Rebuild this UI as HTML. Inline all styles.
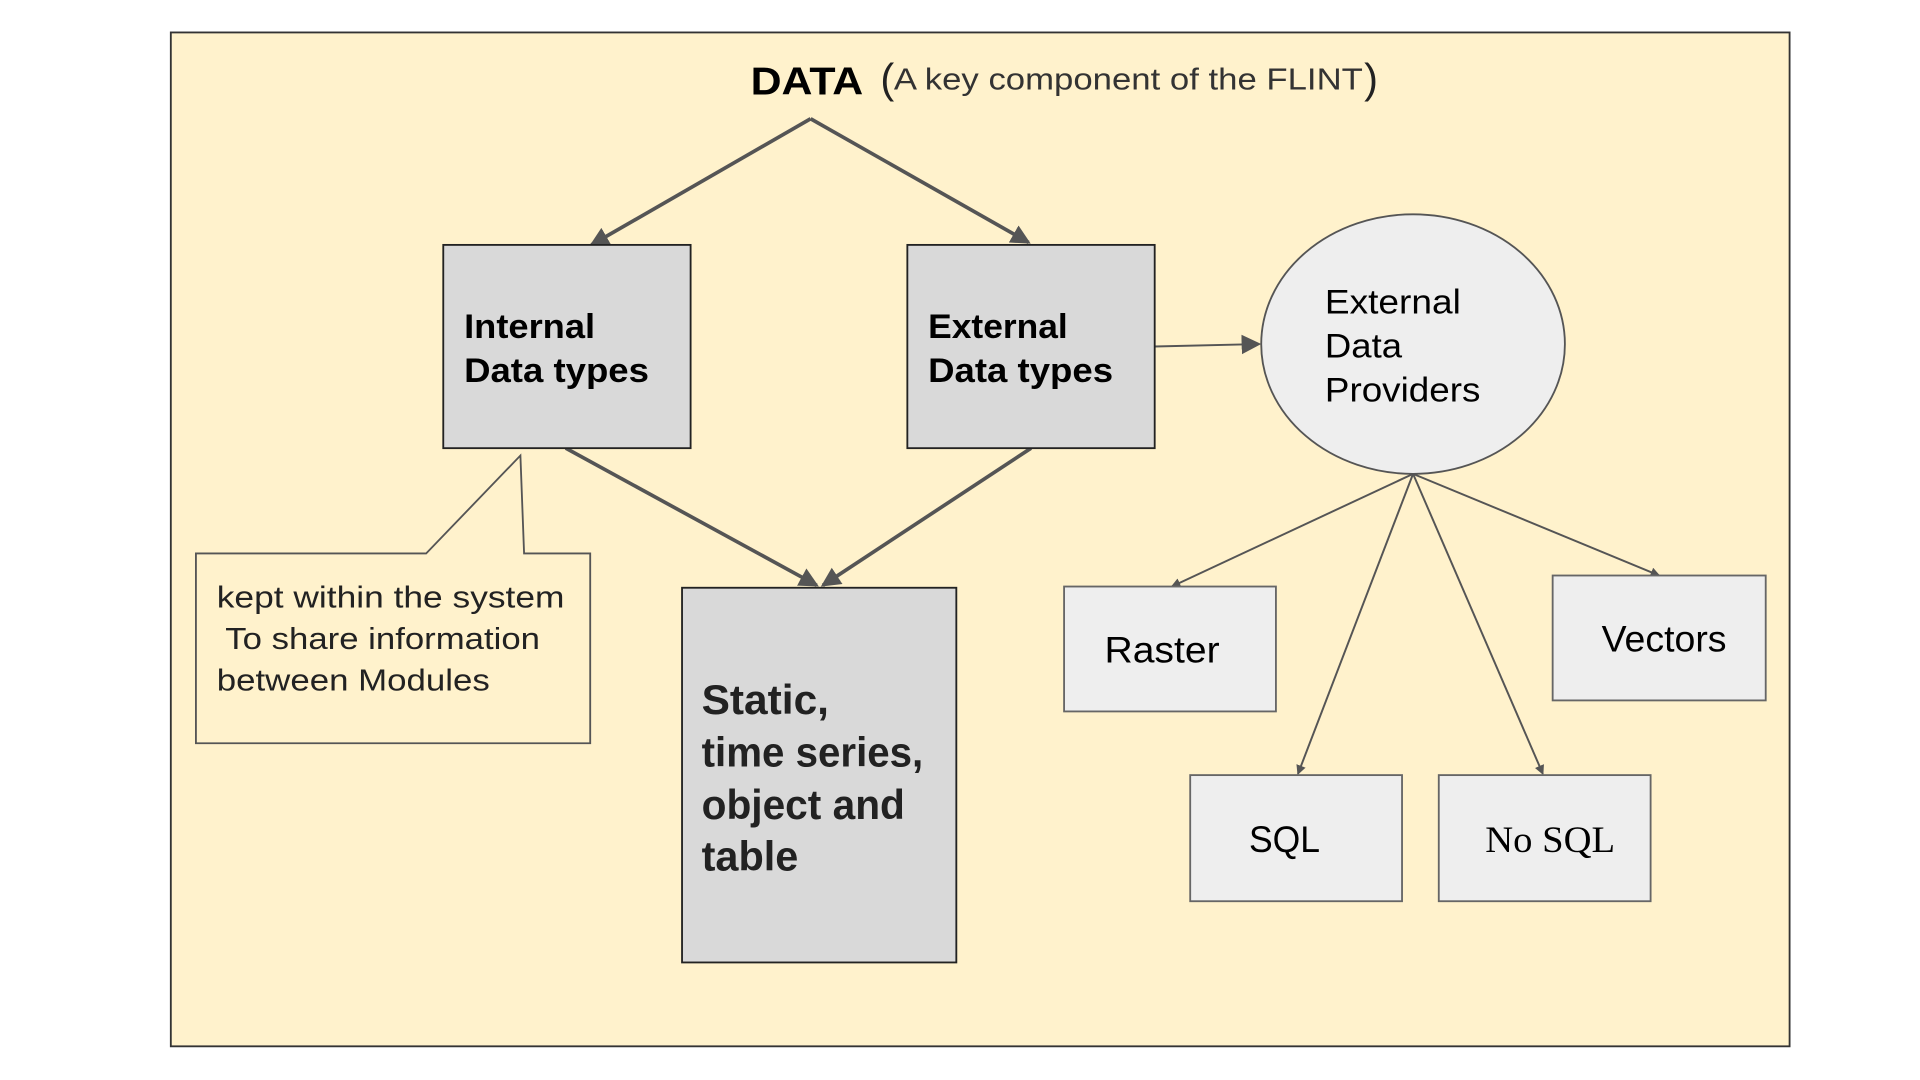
<!DOCTYPE html>
<html><head><meta charset="utf-8"><style>
html,body{margin:0;padding:0;background:#fff;width:1920px;height:1080px;overflow:hidden}
svg{display:block}
text{font-family:"Liberation Sans",sans-serif}
</style></head><body>
<svg width="1920" height="1080" viewBox="0 0 1568 882" xmlns="http://www.w3.org/2000/svg">
<defs>
<marker id="a" markerWidth="8" markerHeight="8" refX="7" refY="4" orient="auto" markerUnits="userSpaceOnUse" viewBox="0 0 8 8"><path d="M0,0L8,4L0,8z" fill="#555"/></marker>
<marker id="b" markerWidth="16" markerHeight="16" refX="14" refY="8" orient="auto" markerUnits="userSpaceOnUse" viewBox="0 0 16 16"><path d="M0,0L16,8L0,16z" fill="#555"/></marker>
</defs>
<rect x="139.5" y="26.5" width="1322" height="828" fill="#fff2cc" stroke="#333" stroke-width="1.5"/>
<text x="613" y="77" font-size="32" font-weight="bold" fill="#000" textLength="92" lengthAdjust="spacingAndGlyphs">DATA</text>
<text x="719" y="76" font-size="34" fill="#222">(</text>
<text x="730" y="73" font-size="25" fill="#333" textLength="383" lengthAdjust="spacingAndGlyphs">A key component of the FLINT</text>
<text x="1114" y="76" font-size="34" fill="#222">)</text>
<g stroke="#555" stroke-width="3" fill="none">
<line x1="662" y1="97" x2="483" y2="200" marker-end="url(#b)"/>
<line x1="662" y1="97" x2="840" y2="198" marker-end="url(#b)"/>
<line x1="462" y1="366" x2="667" y2="478" marker-end="url(#b)"/>
<line x1="842" y1="366" x2="672" y2="478" marker-end="url(#b)"/>
</g>
<g stroke="#555" stroke-width="1.6" fill="none">
<line x1="943" y1="283" x2="1028" y2="281" marker-end="url(#b)"/>
<line x1="1154" y1="387" x2="957" y2="479" marker-end="url(#a)"/>
<line x1="1154" y1="387" x2="1060" y2="632" marker-end="url(#a)"/>
<line x1="1154" y1="387" x2="1260" y2="632" marker-end="url(#a)"/>
<line x1="1154" y1="387" x2="1355" y2="470" marker-end="url(#a)"/>
</g>
<rect x="362" y="200" width="202" height="166" fill="#d9d9d9" stroke="#222" stroke-width="1.5"/>
<text font-size="28" font-weight="bold" fill="#000"><tspan x="379" y="276" textLength="107" lengthAdjust="spacingAndGlyphs">Internal</tspan><tspan x="379" y="312" textLength="151" lengthAdjust="spacingAndGlyphs">Data types</tspan></text>
<rect x="741" y="200" width="202" height="166" fill="#d9d9d9" stroke="#222" stroke-width="1.5"/>
<text font-size="28" font-weight="bold" fill="#000"><tspan x="758" y="276" textLength="114" lengthAdjust="spacingAndGlyphs">External</tspan><tspan x="758" y="312" textLength="151" lengthAdjust="spacingAndGlyphs">Data types</tspan></text>
<ellipse cx="1154" cy="281" rx="124" ry="106" fill="#eeeeee" stroke="#555" stroke-width="1.5"/>
<text font-size="28" fill="#000"><tspan x="1082" y="256" textLength="111" lengthAdjust="spacingAndGlyphs">External</tspan><tspan x="1082" y="292" textLength="63" lengthAdjust="spacingAndGlyphs">Data</tspan><tspan x="1082" y="328" textLength="127" lengthAdjust="spacingAndGlyphs">Providers</tspan></text>
<rect x="557" y="480" width="224" height="306" fill="#d9d9d9" stroke="#222" stroke-width="1.5"/>
<text font-size="34" font-weight="bold" fill="#222"><tspan x="573" y="583" textLength="104" lengthAdjust="spacingAndGlyphs">Static,</tspan><tspan x="573" y="626" textLength="181" lengthAdjust="spacingAndGlyphs">time series,</tspan><tspan x="573" y="669" textLength="166" lengthAdjust="spacingAndGlyphs">object and</tspan><tspan x="573" y="711" textLength="79" lengthAdjust="spacingAndGlyphs">table</tspan></text>
<path d="M160,452H348L425,372L428,452H482V607H160Z" fill="#fff2cc" stroke="#555" stroke-width="1.5"/>
<text font-size="25" fill="#222"><tspan x="177" y="496" textLength="284" lengthAdjust="spacingAndGlyphs">kept within the system</tspan><tspan x="184" y="530" textLength="257" lengthAdjust="spacingAndGlyphs">To share information</tspan><tspan x="177" y="564" textLength="223" lengthAdjust="spacingAndGlyphs">between Modules</tspan></text>
<g fill="#eeeeee" stroke="#666" stroke-width="1.5">
<rect x="869" y="479" width="173" height="102"/>
<rect x="1268" y="470" width="174" height="102"/>
<rect x="972" y="633" width="173" height="103"/>
<rect x="1175" y="633" width="173" height="103"/>
</g>
<g font-size="30" fill="#000">
<text x="902" y="541" textLength="94" lengthAdjust="spacingAndGlyphs">Raster</text>
<text x="1308" y="532" textLength="102" lengthAdjust="spacingAndGlyphs">Vectors</text>
<text x="1020" y="696" textLength="58" lengthAdjust="spacingAndGlyphs">SQL</text>
<text x="1213" y="696" style="font-family:'Liberation Serif',serif" textLength="106" lengthAdjust="spacingAndGlyphs">No SQL</text>
</g>
</svg>
</body></html>
